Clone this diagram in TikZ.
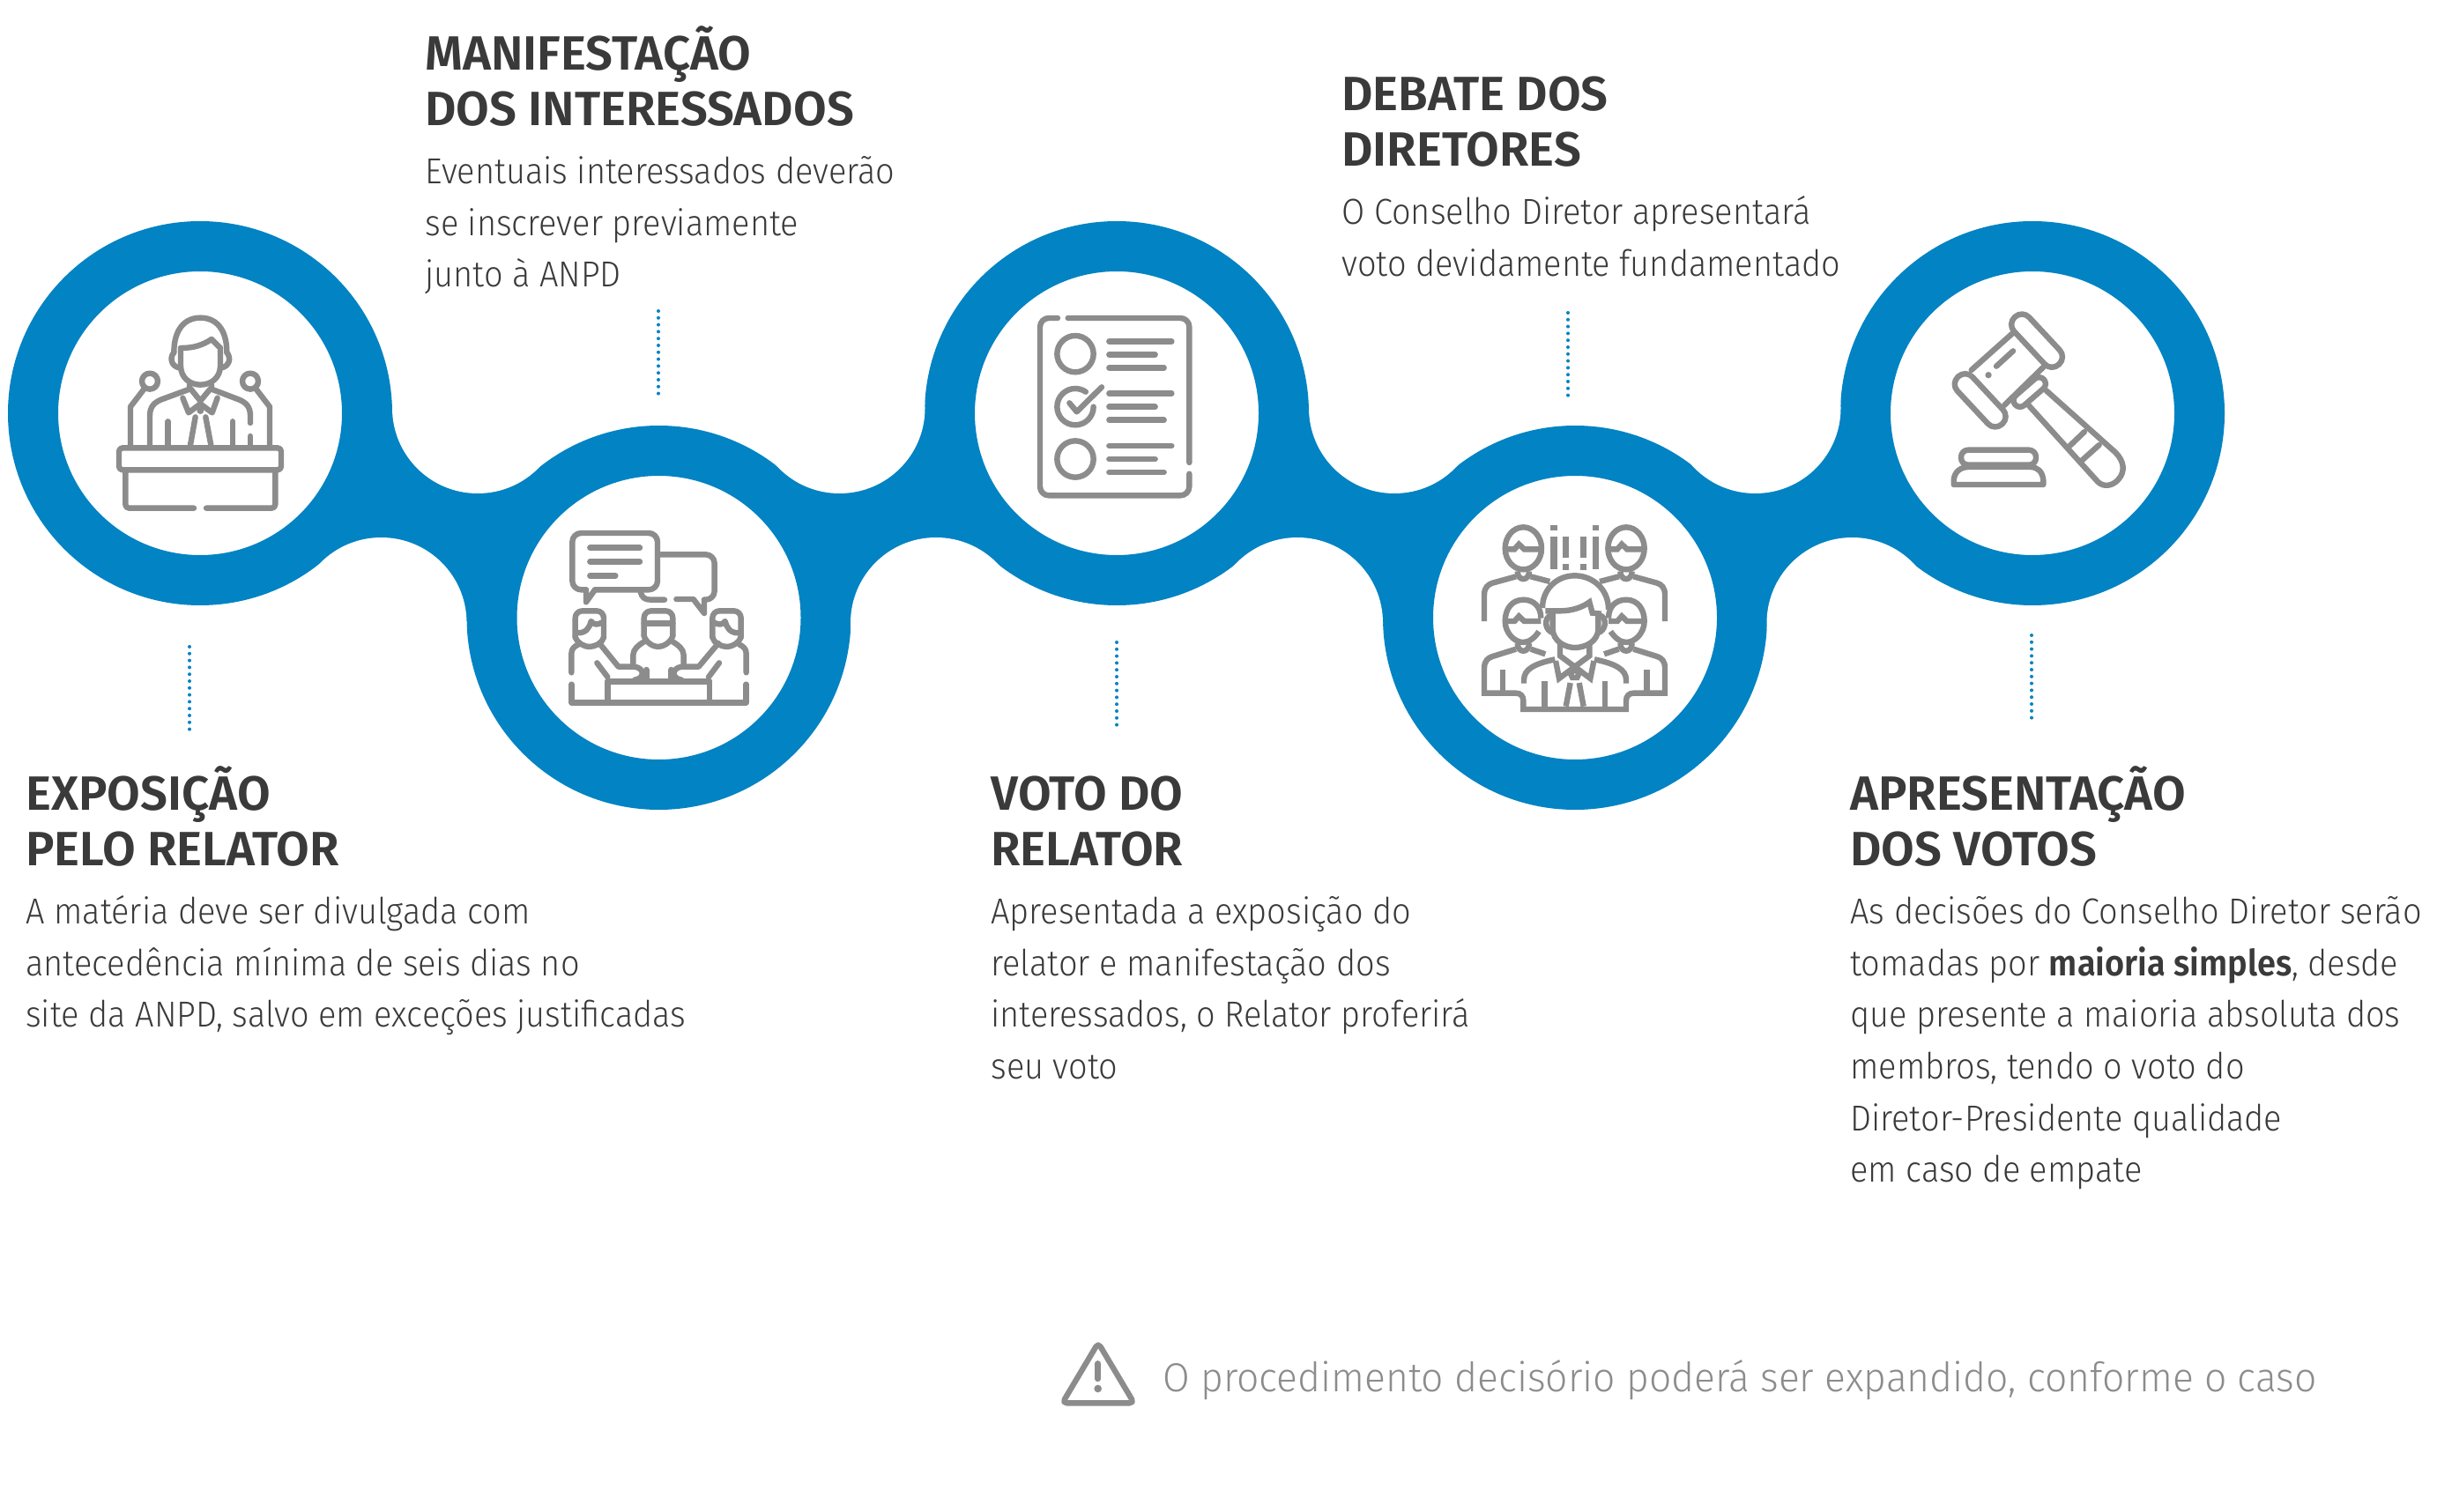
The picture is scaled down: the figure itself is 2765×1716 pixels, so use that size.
\documentclass[tikz,border=0pt]{standalone}
\usepackage{fontspec}
\usepackage{xcolor}
\usepackage{tikz}
\usetikzlibrary{backgrounds,positioning}
\setmainfont[UprightFont=* Light,BoldFont=* SemiBold]{Fira Sans}
\newfontfamily\bodyfont[UprightFont=* Light,BoldFont=* SemiBold,FakeStretch=0.925]{Fira Sans}
\newfontfamily\notefont[UprightFont=* Light,FakeStretch=0.965]{Fira Sans}
\definecolor{bandblue}{HTML}{0283C3}
\definecolor{icongray}{HTML}{8C8C8C}
\definecolor{textgray}{HTML}{3A3A3A}
\newcommand{\titletop}{\rule{0pt}{30pt}}
\newcommand{\bodytop}{\rule{0pt}{22pt}}

\begin{document}
\begin{tikzpicture}[
    x=0.5pt,
    y=-0.5pt,
    ring/.style={
		circle,
		draw=bandblue,
		line width=28.5pt,
		fill=white,
		inner sep=0pt,
		minimum size=189.5pt
	},
	gap/.style={
		circle,
		fill=white,
		inner sep=0pt,
		minimum size=97pt
	},
	dotline/.style={
		draw=bandblue,
		line width=2pt,
		line cap=round,
		dash pattern=on 0pt off 3.9pt
	},
	title/.style={
		anchor=north west,
		inner sep=0pt,
		align=left,
		text=textgray,
		font=\fontsize{27.3}{31.5}\selectfont\bfseries
	},
	body/.style={
		anchor=north west,
		inner sep=0pt,
		align=left,
		text=textgray,
		font=\bodyfont\fontsize{20.5}{29.35}\selectfont
	},
	note/.style={
		anchor=base west,
		inner sep=0pt,
		text=icongray,
		font=\notefont\fontsize{23}{28}\selectfont
	},
	icon/.style={
		draw=icongray,
		line width=3.2pt,
		line cap=round,
		line join=round
	},
	iconbar/.style={
		fill=icongray,
		draw=none
	},
	iconzoom/.style={
		shift={#1},
		x=0.16667pt,
		y=-0.16667pt
	}
  ]
  \useasboundingbox (0,0) rectangle (2765,1716);

    % the five rings
  \node [ring] (step1) at (227,469) {};
  \node [ring] (step2) at (747.5,701) {};
  \node [ring] (step3) at (1267,469) {};
  \node [ring] (step4) at (1787,701) {};
  \node [ring] (step5) at (2306,469) {};

    % round bays between the rings
  \node [gap] (gap1a) at (542,463) {};
  \node [gap] (gap1b) at (432.5,707) {};
  \node [gap] (gap2a) at (952.5,463) {};
  \node [gap] (gap2b) at (1062,707) {};
  \node [gap] (gap3a) at (1582,463) {};
  \node [gap] (gap3b) at (1472,707) {};
  \node [gap] (gap4a) at (1991.5,463) {};
  \node [gap] (gap4b) at (2101.5,707) {};

  \begin{scope}[on background layer]
   \fill [bandblue] (step1.center) -- (gap1a.center) -- (step2.center) -- (gap1b.center) -- cycle;
   \fill [bandblue] (step2.center) -- (gap2a.center) -- (step3.center) -- (gap2b.center) -- cycle;
   \fill [bandblue] (step3.center) -- (gap3a.center) -- (step4.center) -- (gap3b.center) -- cycle;
   \fill [bandblue] (step4.center) -- (gap4a.center) -- (step5.center) -- (gap4b.center) -- cycle;
  \end{scope}

    % texts
  \node [title] (title1) at (29,859) {\titletop EXPOSIÇÃO\\PELO RELATOR};
  \node [body] (text1) at ([yshift=-72.5pt]title1.north west) {\bodytop A matéria deve ser divulgada com\\antecedência mínima de seis dias no\\site da ANPD, salvo em exceções justificadas};

  \node [title] (title2) at (482,19) {\titletop MANIFESTAÇÃO\\DOS INTERESSADOS};
  \node [body] (text2) at ([yshift=-72.5pt]title2.north west) {\bodytop Eventuais interessados deverão\\se inscrever previamente\\junto à ANPD};

  \node [title] (title3) at (1124,859) {\titletop VOTO DO\\RELATOR};
  \node [body] (text3) at ([yshift=-72.5pt]title3.north west) {\bodytop Apresentada a exposição do\\relator e manifestação dos\\interessados, o Relator proferirá\\seu voto};

  \node [title] (title4) at (1522,65) {\titletop DEBATE DOS\\DIRETORES};
  \node [body] (text4) at ([yshift=-72.5pt]title4.north west) {\bodytop O Conselho Diretor apresentará\\voto devidamente fundamentado};

  \node [title] (title5) at (2099,859) {\titletop APRESENTAÇÃO\\DOS VOTOS};
  \node [body] (text5) at ([yshift=-72.5pt]title5.north west) {\bodytop As decisões do Conselho Diretor serão\\tomadas por \textbf{maioria simples}, desde\\que presente a maioria absoluta dos\\membros, tendo o voto do\\Diretor-Presidente qualidade\\em caso de empate};

  \node [note] (warning) at (1319,1579) {O procedimento decisório poderá ser expandido, conforme o caso};

    % dotted lines
  \coordinate (dot1a) at (215,734);
  \coordinate (dot1b) at (215,831);
  \coordinate (dot2a) at (747,353);
  \coordinate (dot2b) at (747,450);
  \coordinate (dot3a) at (1267,729);
  \coordinate (dot3b) at (1267,826);
  \coordinate (dot4a) at (1779,355);
  \coordinate (dot4b) at (1779,452);
  \coordinate (dot5a) at (2305,721);
  \coordinate (dot5b) at (2305,818);
  \draw [dotline] (dot1a) -- (dot1b);
  \draw [dotline] (dot2a) -- (dot2b);
  \draw [dotline] (dot3a) -- (dot3b);
  \draw [dotline] (dot4a) -- (dot4b);
  \draw [dotline] (dot5a) -- (dot5b);

    % speaker at the podium
  \begin{scope}[iconzoom={(120,340)}, icon]
   \draw [rounded corners=2pt] (45,505) rectangle (597,580);
   \draw [rounded corners=2pt] (300,710) -- (67,710) -- (67,585);
   \draw [rounded corners=2pt] (342,710) -- (577,710) -- (577,585);
   \draw (150,278) circle [radius=27];
   \draw (492,278) circle [radius=27];
   \draw (130,305) -- (84,365) -- (84,500);
   \draw (512,305) -- (558,365) -- (558,500);
   \draw (232,180) .. controls (232,100) and (270,62) .. (322,62) .. controls (375,62) and (412,100) .. (412,180);
   \draw (232,180) .. controls (215,200) and (225,228) .. (250,232);
   \draw (412,180) .. controls (429,200) and (419,228) .. (394,232);
   \draw (255,165) .. controls (300,165) and (330,155) .. (360,135) -- (390,165);
   \draw (255,165) -- (255,225) .. controls (255,265) and (285,290) .. (322,290) .. controls (360,290) and (390,265) .. (390,225) -- (390,165);
   \draw (150,500) -- (150,395) .. controls (150,365) and (165,350) .. (190,340) -- (285,305) -- (285,290);
   \draw (492,420) -- (492,395) .. controls (492,365) and (477,350) .. (452,340) -- (360,305) -- (360,290);
   \draw (492,465) -- (492,495);
   \draw (212,415) -- (212,500);
   \draw (432,415) -- (432,500);
   \draw (262,335) -- (282,385) -- (322,355) -- (362,385) -- (380,335);
   \draw (290,305) -- (322,345) -- (355,305);
   \draw (305,400) -- (288,495);
   \draw (340,400) -- (358,495);
   \fill [iconbar] (322,378) circle [radius=12];
  \end{scope}

    % three people talking
  \begin{scope}[iconzoom={(630,590)}, icon]
   \draw [rounded corners=5pt] (105,238) -- (58,238) -- (58,45) -- (348,45) -- (348,238) -- (135,238);
   \draw (105,238) -- (105,280) -- (135,238);
   \draw (118,95) -- (288,95);
   \draw (118,142) -- (288,142);
   \draw (118,190) -- (205,190);
   \draw [rounded corners=5pt] (355,118) -- (542,118) -- (542,272) -- (507,272);
   \draw (507,272) -- (507,318) -- (470,270) -- (412,270);
   \draw (290,245) .. controls (295,265) and (305,272) .. (325,272) -- (372,272);
   % left person
   \draw [rounded corners=4pt] (68,400) -- (68,310) -- (165,310) -- (165,400);
   \draw (68,400) .. controls (75,420) and (100,432) .. (115,432) .. controls (135,432) and (160,420) .. (165,400);
   \draw (75,385) .. controls (105,385) and (115,370) .. (122,345) .. controls (130,358) and (145,358) .. (158,350);
   \draw (55,520) -- (55,455) .. controls (55,440) and (65,430) .. (78,425);
   \draw (150,420) -- (215,500) -- (270,500) .. controls (305,505) and (305,540) .. (270,545);
   \draw (142,487) -- (178,535);
   % middle person
   \draw [rounded corners=4pt] (302,395) -- (302,310) -- (400,310) -- (400,395);
   \draw (302,395) .. controls (310,420) and (335,432) .. (350,432) .. controls (365,432) and (392,420) .. (400,395);
   \draw (302,352) -- (400,352);
   \draw (265,490) -- (265,460) .. controls (265,440) and (285,425) .. (302,415);
   \draw (437,490) -- (437,460) .. controls (437,440) and (417,425) .. (400,415);
   % right person
   \draw [rounded corners=4pt] (632,400) -- (632,310) -- (535,310) -- (535,400);
   \draw (632,400) .. controls (625,420) and (600,432) .. (585,432) .. controls (565,432) and (540,420) .. (535,400);
   \draw (625,385) .. controls (595,385) and (585,370) .. (578,345) .. controls (570,358) and (555,358) .. (542,350);
   \draw (650,520) -- (650,455) .. controls (650,440) and (640,430) .. (627,425);
   \draw (555,420) -- (488,500) -- (430,500) .. controls (395,505) and (395,540) .. (430,545);
   \draw (558,487) -- (522,535);
   % table
   \draw (178,550) -- (525,550);
   \draw (178,550) -- (178,622);
   \draw (525,550) -- (525,622);
   \draw (55,560) -- (55,622) -- (650,622) -- (650,560);
   \draw (310,510) -- (310,545);
   \draw (395,510) -- (395,545);
  \end{scope}

    % checklist
  \begin{scope}[iconzoom={(1160,350)}, icon]
   \draw [rounded corners=5pt] (120,33) -- (60,33) -- (60,637) -- (568,637) -- (568,563);
   \draw [rounded corners=5pt] (568,525) -- (568,33) -- (155,33);
   \draw (180,155) circle [radius=62];
   \draw (180,513) circle [radius=62];
   \draw (242,335) arc [start angle=0, end angle=305, radius=62];
   \draw (160,322) -- (185,352) -- (270,268);
   \draw (295,112) -- (508,112);
   \draw (295,157) -- (452,157);
   \draw (295,202) -- (482,202);
   \draw (295,290) -- (508,290);
   \draw (295,335) -- (452,335);
   \draw (295,380) -- (482,380);
   \draw (295,468) -- (508,468);
   \draw (295,513) -- (452,513);
   \draw (295,558) -- (482,558);
  \end{scope}

    % crowd
  \begin{scope}[iconzoom={(1670,585)}, icon, line cap=butt, line join=miter]
   \draw (175,112) ellipse [x radius=62, y radius=72];
   \draw (525,112) ellipse [x radius=62, y radius=72];
   \draw (115,115) -- (145,115) -- (160,98) -- (178,115) -- (235,115);
   \draw (465,115) -- (495,115) -- (510,98) -- (528,115) -- (585,115);
   \draw (155,190) .. controls (155,225) and (195,225) .. (195,190);
   \draw (505,190) .. controls (505,225) and (545,225) .. (545,190);
   \draw (42,360) -- (42,270) .. controls (42,245) and (55,235) .. (70,230) -- (150,208);
   \draw (200,208) -- (265,225);
   \draw (657,360) -- (657,270) .. controls (657,245) and (645,235) .. (630,230) -- (550,208);
   \draw (500,208) -- (435,225);
   \draw (235,350) .. controls (235,310) and (210,287) .. (175,287) .. controls (135,287) and (113,320) .. (113,360) .. controls (113,400) and (145,432) .. (175,432) .. controls (195,432) and (215,415) .. (228,395);
   \draw (465,350) .. controls (465,310) and (490,287) .. (525,287) .. controls (565,287) and (587,320) .. (587,360) .. controls (587,400) and (555,432) .. (525,432) .. controls (505,432) and (485,415) .. (472,395);
   \draw (115,360) -- (145,360) -- (160,343) -- (178,360) -- (235,360);
   \draw (465,360) -- (495,360) -- (510,343) -- (528,360) -- (585,360);
   \draw (155,435) .. controls (155,470) and (195,470) .. (195,435);
   \draw (505,435) .. controls (505,470) and (545,470) .. (545,435);
   \draw (150,455) -- (70,480) .. controls (55,485) and (42,495) .. (42,520) -- (42,605) -- (150,605) .. controls (165,605) and (175,615) .. (175,630) -- (175,660) -- (525,660) -- (525,630) .. controls (525,615) and (535,605) .. (550,605) -- (657,605) -- (657,520) .. controls (657,495) and (645,485) .. (630,480) -- (550,455);
   \draw (200,455) -- (250,472);
   \draw (500,455) -- (450,472);
   \draw (105,525) -- (105,600);
   \draw (595,525) -- (595,600);
   \draw (240,315) .. controls (240,250) and (290,205) .. (350,205) .. controls (410,205) and (465,250) .. (465,320);
   \draw (250,325) -- (300,325) .. controls (345,325) and (380,310) .. (400,295) -- (410,332) -- (440,335);
   \draw (275,325) -- (275,385) .. controls (275,430) and (320,450) .. (350,450) .. controls (385,450) and (430,430) .. (430,385) -- (430,335);
   \draw (270,340) .. controls (245,345) and (245,395) .. (280,400);
   \draw (435,340) .. controls (460,345) and (460,395) .. (425,400);
   \draw (300,435) -- (300,478) -- (350,515) -- (400,478) -- (400,435);
   \draw (285,495) -- (297,555) -- (350,515) -- (403,555) -- (415,495);
   \draw (350,525) -- (365,537) -- (358,552) -- (342,552) -- (335,537) -- cycle;
   \draw (335,570) -- (320,650);
   \draw (365,570) -- (380,650);
   \draw (177,572) -- (177,560) .. controls (177,525) and (210,505) .. (283,490);
   \draw (525,572) -- (525,560) .. controls (525,525) and (490,505) .. (417,490);
   \draw (248,565) -- (248,655);
   \draw (452,565) -- (452,655);
   \fill [iconbar] (268,32) rectangle (290,52);
   \fill [iconbar] (268,72) rectangle (290,182);
   \fill [iconbar] (310,72) rectangle (330,145);
   \fill [iconbar] (310,165) rectangle (330,185);
   \fill [iconbar] (370,72) rectangle (390,145);
   \fill [iconbar] (370,165) rectangle (390,185);
   \fill [iconbar] (412,32) rectangle (432,52);
   \fill [iconbar] (412,72) rectangle (432,182);
  \end{scope}

    % gavel
  \begin{scope}[iconzoom={(2200,345)}, icon]
   \draw [rounded corners=5.6pt, rotate around={-47:(333,125)}] (223,90) rectangle (443,160);
   \draw [rounded corners=5.6pt, rotate around={-47:(140,328)}] (30,293) rectangle (250,363);
   \draw (110,225) -- (250,100);
   \draw (222,345) -- (355,215);
   \draw (195,212) -- (252,160);
   \fill [iconbar] (168,242) circle [radius=11];
   \draw [rounded corners=3.6pt, rotate around={41:(308,300)}] (243,278) rectangle (373,322);
   \draw (365,295) -- (600,505) .. controls (630,535) and (635,570) .. (610,598) .. controls (590,620) and (560,625) .. (540,605) -- (305,345);
   \draw (445,483) -- (495,435);
   \draw (487,532) -- (545,480);
   \draw [rounded corners=4pt] (75,497) rectangle (330,548);
   \draw (50,615) -- (50,600) .. controls (52,570) and (75,555) .. (100,555) -- (310,555) .. controls (335,555) and (352,570) .. (355,600) -- (355,615) -- cycle;
  \end{scope}

    % warning sign
  \begin{scope}[iconzoom={(1180,1500)}, icon]
   \draw [rounded corners=2.5pt] (198,72) -- (76,277) -- (320,277) -- cycle;
   \draw (197,142) -- (197,195);
   \fill [iconbar] (197,228) circle [radius=13];
  \end{scope}
\end{tikzpicture}
\end{document}
